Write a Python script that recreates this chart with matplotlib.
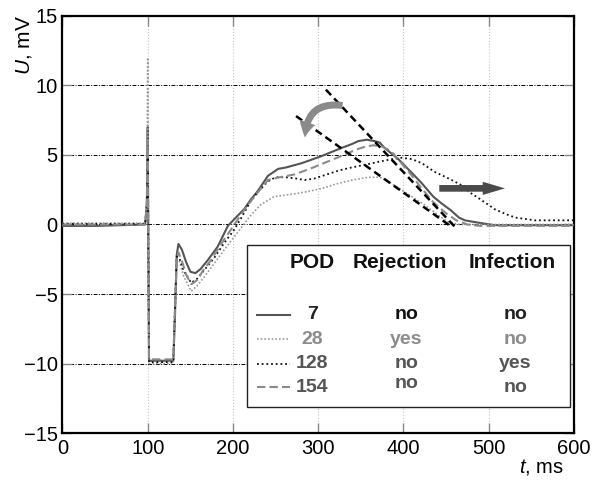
import matplotlib
matplotlib.use("Agg")
import matplotlib.pyplot as plt
from matplotlib.patches import FancyArrowPatch, Rectangle
from matplotlib.lines import Line2D

plt.rcParams['font.family'] = ['Liberation Sans', 'DejaVu Sans']
plt.rcParams['mathtext.fontset'] = 'custom'
plt.rcParams['mathtext.it'] = 'Liberation Sans:italic'
plt.rcParams['mathtext.rm'] = 'Liberation Sans'

# --- data (t in ms, U in mV) ---
t7 = [0, 40, 97, 99, 100, 100.5, 101.5, 130, 132, 134, 136, 140, 145, 150, 156, 162, 170, 182, 194, 205,
      213, 221, 229, 241, 253, 262, 280, 303, 327, 340, 347, 357, 366, 372, 378, 386, 394, 410, 421, 435,
      445, 456, 465, 472, 486, 507, 600]
u7 = [-0.1, -0.1, 0, 1.5, 7.0, 1.0, -9.8, -9.8, -6.5, -2.2, -1.4, -1.8, -2.7, -3.4, -3.5, -3.2, -2.6, -1.6, -0.1, 0.6,
      1.1, 1.8, 2.4, 3.5, 4.0, 4.1, 4.4, 4.9, 5.5, 5.8, 6.0, 6.1, 6.0, 5.9, 5.5, 5.1, 4.7, 3.7, 3.0, 2.0,
      1.5, 1.0, 0.5, 0.3, 0.15, -0.05, -0.05]

t28 = [0, 97, 99, 100, 100.5, 101.5, 130, 132, 134, 137, 142, 151, 158, 166, 178, 190, 200, 210, 220, 232,
       248, 260, 272, 290, 305, 320, 340, 359, 372, 382, 395, 410, 425, 440, 452, 465, 600]
u28 = [0.1, 0.1, 2.0, 12.0, 2.0, -10.0, -10.0, -6.0, -2.5, -2.6, -3.7, -4.8, -4.4, -3.8, -2.8, -1.8, -1.0, -0.2, 0.6, 1.4,
       2.0, 2.1, 2.2, 2.4, 2.6, 2.9, 3.2, 3.4, 3.4, 3.1, 2.6, 2.0, 1.4, 0.7, 0.2, 0.0, 0.0]

t128 = [0, 97, 99, 100, 100.5, 101.5, 130, 132, 134, 137, 142, 151, 158, 166, 178, 190, 200, 210, 220, 230,
        241, 250, 262, 275, 284, 295, 310, 325, 339, 355, 370, 386, 398, 410, 422, 436, 450, 466, 478, 488,
        500, 507, 520, 531, 554, 575, 600]
u128 = [0.05, 0.05, 1.5, 5.0, 1.0, -9.9, -9.9, -6.0, -2.3, -2.4, -3.3, -4.2, -3.9, -3.3, -2.4, -1.3, -0.5, 0.5, 1.6, 2.4,
        3.1, 3.4, 3.4, 3.3, 3.2, 3.3, 3.6, 3.9, 4.1, 4.3, 4.5, 4.7, 4.8, 4.7, 4.4, 3.8, 3.4, 2.9, 2.3, 1.9,
        1.4, 1.1, 0.75, 0.5, 0.3, 0.3, 0.3]

t154 = [0, 97, 99, 100, 100.5, 101.5, 130, 132, 134, 136, 140, 145, 151, 158, 165, 175, 185, 195, 205, 215,
        225, 241, 255, 272, 290, 310, 330, 345, 355, 365, 375, 385, 395, 410, 420, 435, 450, 462, 475, 490,
        600]
u154 = [0, 0, 1.5, 6.0, 1.0, -9.7, -9.7, -6.0, -2.5, -2.0, -2.6, -3.6, -4.3, -4.0, -3.3, -2.5, -1.5, -0.6, 0.3, 1.2,
        2.0, 3.2, 3.4, 3.6, 4.0, 4.5, 5.0, 5.4, 5.6, 5.7, 5.6, 5.3, 4.6, 3.5, 2.7, 1.6, 0.8, 0.3, 0.0, -0.1,
        -0.1]

# tangent lines to the descending T-wave
tan1_t = [309, 460]
tan1_u = [9.7, -0.15]
tan2_t = [274, 456]
tan2_u = [7.8, -0.15]

pod = ["7", "28", "128", "154"]
rejection = ["no", "yes", "no", "no"]
infection = ["no", "no", "yes", "no"]

# --- figure ---
fig = plt.figure(figsize=(5.95, 4.83), dpi=100)
ax = fig.add_axes([0.105, 0.1035, 0.8597, 0.8634])

styles = [
    dict(color="#555555", lw=1.5, ls="-"),
    dict(color="#9a9a9a", lw=1.2, ls=(0, (1, 1.2))),
    dict(color="#111111", lw=1.3, ls=(0, (1, 1.6))),
    dict(color="#8a8a8a", lw=1.5, ls=(0, (4, 2))),
]
series = [(t7, u7), (t28, u28), (t128, u128), (t154, u154)]
for (t, u), st in zip(series, styles):
    ax.plot(t, u, zorder=3, **st)

ax.plot(tan1_t, tan1_u, color="k", lw=1.8, ls=(0, (3, 1.8)), zorder=4)
ax.plot(tan2_t, tan2_u, color="k", lw=1.8, ls=(0, (3, 1.8)), zorder=4)

# arrows
curved = FancyArrowPatch((328.5, 8.56), (284.5, 6.26), connectionstyle="arc3,rad=0.55",
                         arrowstyle="simple,head_length=11,head_width=12,tail_width=5",
                         mutation_scale=1, color="#8a8a8a", lw=0, shrinkA=0, shrinkB=0, zorder=5)
ax.add_patch(curved)
straight = FancyArrowPatch((442, 2.6), (519, 2.6),
                           arrowstyle="simple,head_length=16,head_width=9.5,tail_width=4.8",
                           mutation_scale=1, color="#4a4a4a", lw=0, shrinkA=0, shrinkB=0, zorder=5)
ax.add_patch(straight)

ax.set_xlim(0, 600)
ax.set_ylim(-15, 15)
ax.set_xticks(range(0, 601, 100))
ax.set_yticks(range(-15, 16, 5))
ax.set_yticklabels(["\u221215", "\u221210", "\u22125", "0", "5", "10", "15"])
ax.xaxis.grid(True, color="#c8c8c8", ls=":", lw=0.8)
ax.yaxis.grid(True, color="k", ls=(0, (4, 1.5, 1, 1.5)), lw=0.7)
ax.set_axisbelow(True)
ax.tick_params(direction="in", length=7, width=1, color="#888888", top=True, right=True,
               labelsize=14.5)
ax.tick_params(axis="x", pad=4.5)
ax.tick_params(axis="y", pad=3.5)
for s in ax.spines.values():
    s.set_linewidth(1.6)

ax.text(-0.076, 0.93, "$U$, mV", rotation=90, ha="center", va="center",
        fontsize=15, transform=ax.transAxes)
ax.text(0.936, -0.082, "$t$, ms", ha="center", va="center",
        fontsize=14.5, transform=ax.transAxes)

# legend table
box = Rectangle((0.361, 0.062), 0.631, 0.389, transform=ax.transAxes,
                fc="white", ec="#222222", lw=1.0, zorder=6)
ax.add_patch(box)
hdr_y = 0.408
for x, s in [(0.488, "POD"), (0.660, "Rejection"), (0.879, "Infection")]:
    ax.text(x, hdr_y, s, ha="center", va="center", fontsize=15, fontweight="bold",
            color="#111111", transform=ax.transAxes, zorder=7)

row_y = [0.283, 0.225, 0.166, 0.110]
pod_col = ["#222222", "#8c8c8c", "#555555", "#555555"]
rej_col = ["#111111", "#8c8c8c", "#555555", "#555555"]
inf_col = ["#222222", "#8c8c8c", "#555555", "#555555"]
for i, y in enumerate(row_y):
    ax.add_line(Line2D([0.381, 0.444], [y, y], transform=ax.transAxes, zorder=7, **styles[i]))
    ax.text(0.488, y, pod[i], ha="center", va="center", fontsize=14, fontweight="bold",
            color=pod_col[i], transform=ax.transAxes, zorder=7)
    dy = 0.008 if i == 3 else 0
    ax.text(0.672, y + dy, rejection[i], ha="center", va="center", fontsize=14, fontweight="bold",
            color=rej_col[i], transform=ax.transAxes, zorder=7)
    ax.text(0.885, y, infection[i], ha="center", va="center", fontsize=14, fontweight="bold",
            color=inf_col[i], transform=ax.transAxes, zorder=7)

fig.savefig("out.png", dpi=100)
